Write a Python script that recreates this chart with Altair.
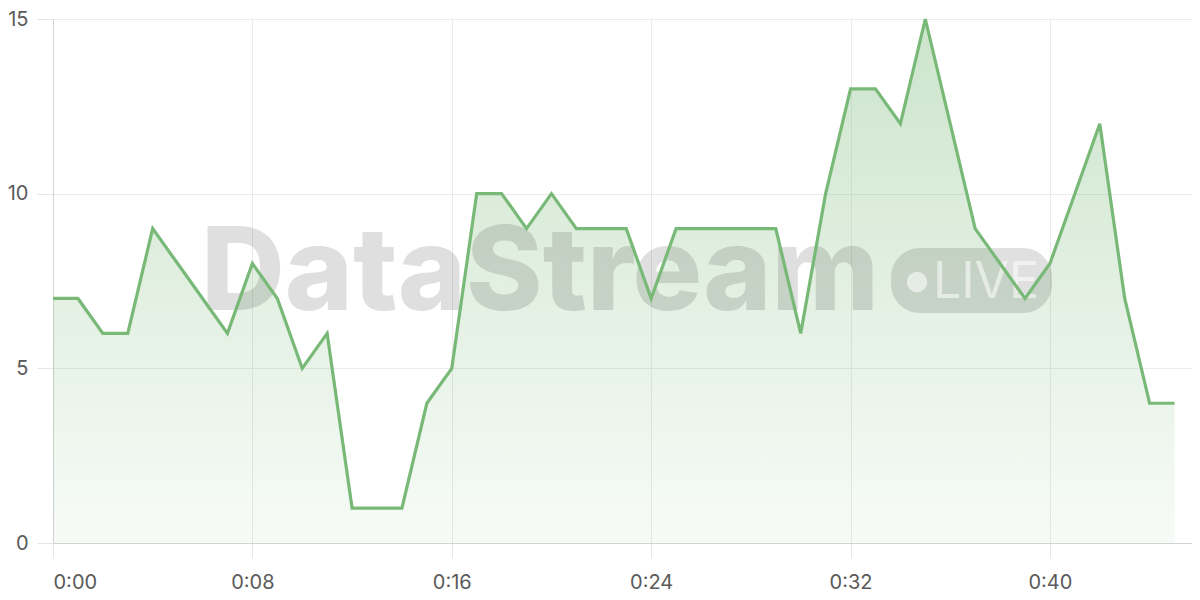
import altair as alt
import pandas as pd

seconds = list(range(46))
values = [7, 7, 6, 6, 9, 8, 7, 6, 8, 7, 5, 6, 1, 1, 1, 4, 5, 10, 10, 9,
          10, 9, 9, 9, 7, 9, 9, 9, 9, 9, 6, 10, 13, 13, 12, 15, 12, 9, 8, 7,
          8, 10, 12, 7, 4, 4]
x_ticks = [0, 8, 16, 24, 32, 40]
y_ticks = [0, 5, 10, 15]
watermark = ["DataStream"]
badge = ["LIVE"]

df = pd.DataFrame({"t": seconds, "v": values})

FONT = "Inter"
LINE = "#79b978"

x_enc = alt.X(
    "t:Q",
    scale=alt.Scale(domain=[0, 45.7], nice=False, zero=False),
    axis=alt.Axis(
        values=x_ticks,
        labelExpr="'0:' + (datum.value < 10 ? '0' : '') + datum.value",
        title=None,
        grid=True,
        gridColor="#ebebeb",
        domainColor="#d4d4d4",
        tickColor="#e6e6e6",
        tickSize=15,
        labelPadding=14,
        labelFontSize=20,
        labelColor="#5a5a5a",
        labelFont=FONT,
    ),
)
y_enc = alt.Y(
    "v:Q",
    scale=alt.Scale(domain=[0, 15], nice=False),
    axis=alt.Axis(
        values=y_ticks,
        title=None,
        grid=True,
        gridColor="#ebebeb",
        domainColor="#d4d4d4",
        tickColor="#e6e6e6",
        tickSize=16,
        labelPadding=9,
        labelFontSize=20,
        labelColor="#5a5a5a",
        labelFont=FONT,
    ),
)

base = alt.Chart(df)

area = base.mark_area(
    color=alt.Gradient(
        gradient="linear",
        stops=[
            alt.GradientStop(color="rgba(121,185,120,0.38)", offset=0),
            alt.GradientStop(color="rgba(121,185,120,0.06)", offset=1),
        ],
        x1=0, x2=0, y1=0, y2=1,
    ),
    interpolate="linear",
).encode(x=x_enc, y=y_enc)

line = base.mark_line(color=LINE, strokeWidth=3.2, interpolate="linear").encode(
    x=alt.X("t:Q"), y=alt.Y("v:Q")
)

wm_text = alt.Chart(pd.DataFrame({"s": watermark})).mark_text(
    font=FONT, fontSize=116, fontWeight=800, align="center",
    baseline="alphabetic", color="#000000", opacity=0.12,
).encode(text="s:N", x=alt.value(487), y=alt.value(291))

wm_badge = alt.Chart(pd.DataFrame({"s": badge})).mark_rect(
    color="#000000", opacity=0.12, cornerRadius=29,
).encode(x=alt.value(838), x2=alt.value(999), y=alt.value(229), y2=alt.value(294))

wm_dot = alt.Chart(pd.DataFrame({"s": badge})).mark_point(
    shape="circle", filled=True, size=420, color="#ffffff", opacity=0.55,
).encode(x=alt.value(864), y=alt.value(263))

wm_live = alt.Chart(pd.DataFrame({"s": badge})).mark_text(
    font=FONT, fontSize=50, fontWeight="normal", align="center",
    baseline="alphabetic", color="#ffffff", opacity=0.55,
).encode(text="s:N", x=alt.value(933), y=alt.value(279))

chart = alt.layer(area, wm_text, wm_badge, wm_dot, wm_live, line).properties(
    width=1139,
    height=524,
    autosize=alt.AutoSizeParams(type="none"),
    padding={"left": 45, "top": 11, "right": 0, "bottom": 49},
).configure_view(stroke=None).configure(background="#ffffff")

chart.save("out.html", embed_options={"renderer": "svg", "actions": False})
